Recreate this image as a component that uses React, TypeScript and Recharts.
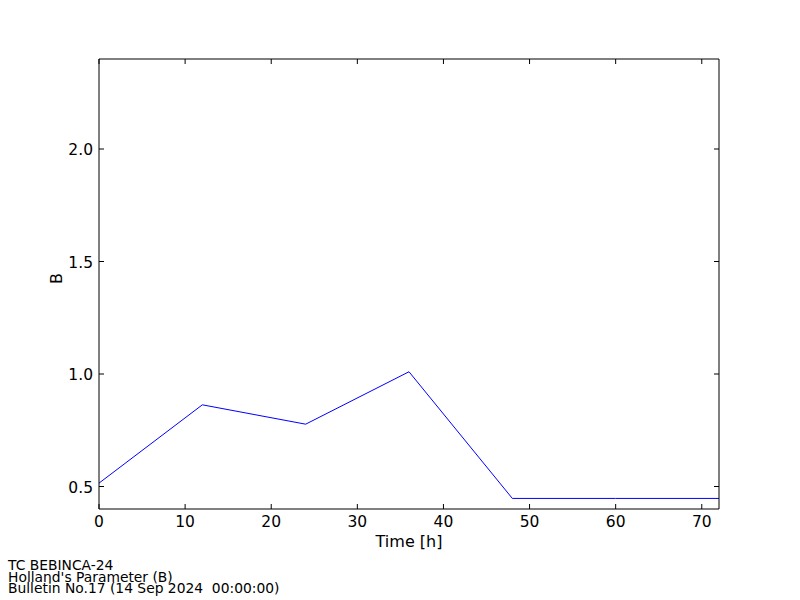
import { LineChart, Line, XAxis, YAxis } from "recharts";

const hours = [0, 12, 24, 36, 48, 60, 72];
const hollandB = [0.515, 0.863, 0.777, 1.01, 0.447, 0.447, 0.447];
const xTicks = [0, 10, 20, 30, 40, 50, 60, 70];
const yTicks = [0.5, 1.0, 1.5, 2.0];
const footerLines = ["TC BEBINCA-24", "Holland's Parameter (B)", "Bulletin No.17 (14 Sep 2024  00:00:00)"];

const data = hours.map((t, i) => ({ t, b: hollandB[i] }));

const FONT = "DejaVu Sans";
const TICK = 5;
const TICK_FS = 15.5;

function BottomTick({ x, y, payload }: any) {
  return (
    <g>
      <line x1={x} y1={y} x2={x} y2={y - TICK} stroke="#000" />
      <text x={x} y={y + 18} textAnchor="middle" fontFamily={FONT} fontSize={TICK_FS} fill="#000">
        {payload.value}
      </text>
    </g>
  );
}

function LeftTick({ x, y, payload }: any) {
  return (
    <g>
      <line x1={x} y1={y} x2={x + TICK} y2={y} stroke="#000" />
      <text x={x - 6} y={y + 6} textAnchor="end" fontFamily={FONT} fontSize={TICK_FS} fill="#000">
        {payload.value.toFixed(1)}
      </text>
    </g>
  );
}

function TopTick({ x, y }: any) {
  return <line x1={x} y1={y} x2={x} y2={y + TICK} stroke="#000" />;
}

function RightTick({ x, y }: any) {
  return <line x1={x} y1={y} x2={x - TICK} y2={y} stroke="#000" />;
}

export default function App() {
  return (
    <div style={{ position: "absolute", left: 0, top: 0, width: 800, height: 600, background: "#fff" }}>
      <LineChart width={800} height={600} data={data} margin={{ top: 58, right: 80, bottom: 51, left: 39 }}>
        <XAxis
          dataKey="t"
          type="number"
          domain={[0, 72]}
          ticks={xTicks}
          tickSize={0}
          tickMargin={0}
          tickLine={false}
          tick={<BottomTick />}
          height={40}
          axisLine={{ stroke: "#000" }}
          label={{ value: "Time [h]", position: "insideBottom", offset: 2, fill: "#000", fontFamily: FONT, fontSize: 16 }}
        />
        <XAxis
          xAxisId="top"
          dataKey="t"
          orientation="top"
          type="number"
          domain={[0, 72]}
          ticks={xTicks}
          tickSize={0}
          tickMargin={0}
          tickLine={false}
          tick={<TopTick />}
          height={1}
          axisLine={{ stroke: "#000" }}
        />
        <YAxis
          type="number"
          domain={[0.4, 2.4]}
          ticks={yTicks}
          tickSize={0}
          tickMargin={0}
          tickLine={false}
          tick={<LeftTick />}
          width={60}
          axisLine={{ stroke: "#000" }}
          label={{ value: "B", angle: -90, position: "insideLeft", offset: 17, fill: "#000", fontFamily: FONT, fontSize: 16 }}
        />
        <YAxis
          yAxisId="right"
          orientation="right"
          type="number"
          domain={[0.4, 2.4]}
          ticks={yTicks}
          tickSize={0}
          tickMargin={0}
          tickLine={false}
          tick={<RightTick />}
          width={1}
          axisLine={{ stroke: "#000" }}
        />
        <Line
          xAxisId="top"
          yAxisId="right"
          dataKey="b"
          stroke="none"
          dot={false}
          activeDot={false}
          legendType="none"
          isAnimationActive={false}
        />
        <Line dataKey="b" stroke="#0000ff" strokeWidth={1} dot={false} isAnimationActive={false} />
      </LineChart>
      <svg width={800} height={600} style={{ position: "absolute", left: 0, top: 0, pointerEvents: "none" }}>
        {footerLines.map((s, i) => (
          <text key={s} x={8} y={570 + i * 11.7} fontFamily={FONT} fontSize={13.85} fill="#000" style={{ whiteSpace: "pre" }}>
            {s}
          </text>
        ))}
      </svg>
    </div>
  );
}
